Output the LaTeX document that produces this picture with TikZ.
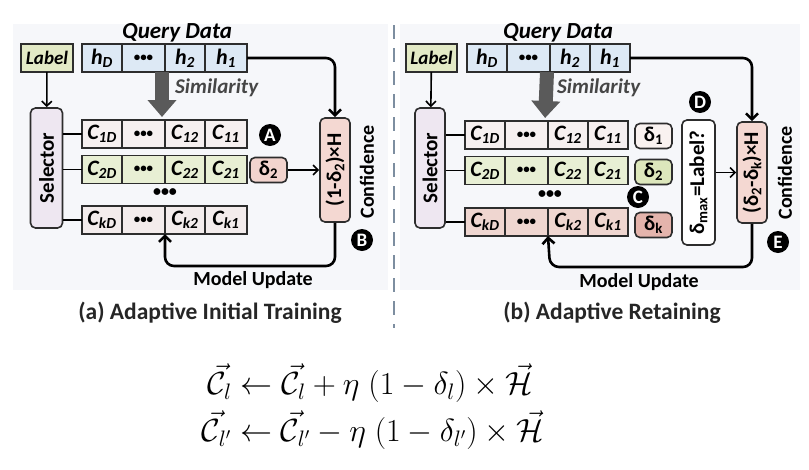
\RequirePackage{fix-cm}
\documentclass[tikz,border=0pt]{standalone}
\usepackage{amsmath}
\usepackage{graphicx}
\usepackage[no-math]{fontspec}
\setmainfont{Carlito}
\usetikzlibrary{arrows.meta, positioning}
\definecolor{edge}{RGB}{45,45,45}
\definecolor{panel}{RGB}{246,247,250}
\definecolor{labelfill}{RGB}{227,234,198}
\definecolor{hfill}{RGB}{221,233,245}
\definecolor{selfill}{RGB}{238,231,241}
\definecolor{rowone}{RGB}{246,240,240}
\definecolor{rowtwo}{RGB}{232,239,212}
\definecolor{rowka}{RGB}{243,236,236}
\definecolor{rowkb}{RGB}{239,214,208}
\definecolor{dpink}{RGB}{242,212,206}
\definecolor{done}{RGB}{249,242,240}
\definecolor{dgreen}{RGB}{221,231,188}
\definecolor{dred}{RGB}{228,180,172}
\definecolor{conffill}{RGB}{244,216,210}
\definecolor{simgray}{RGB}{90,90,90}
\definecolor{simtext}{RGB}{70,70,70}
\definecolor{sepcol}{RGB}{125,142,160}

\begin{document}
\begin{tikzpicture}[x=1pt, y=-1pt,
    cell/.style={draw=edge, line width=1.3pt, minimum height=28pt, inner sep=0pt, outer sep=0pt,
        font=\fontsize{22}{23}\selectfont\bfseries\itshape},
    dotcell/.style={cell, font=\fontsize{13}{14}\selectfont\bfseries},
    box/.style={draw=edge, line width=1.6pt, rounded corners=5pt, inner sep=0pt,
        font=\fontsize{21}{22}\selectfont\bfseries},
    badge/.style={circle, fill=black, text=white, inner sep=0pt, minimum size=22pt,
        font=\fontsize{19}{20}\selectfont\bfseries},
    headline/.style={inner sep=0pt, font=\fontsize{23}{24}\selectfont\bfseries\itshape},
    flow/.style={draw=black, line width=2.6pt, rounded corners=9pt, -{Straight Barb[length=6pt,width=12pt]}},
    link/.style={draw=black, line width=1.6pt, -{Straight Barb[length=5pt,width=10pt]}},
    wire/.style={draw=black, line width=1.6pt},
    simflow/.style={draw=simgray, line width=14pt, -{Triangle[length=17pt,width=28pt]}},
    eq/.style={inner sep=0pt, font=\fontsize{32}{37}\selectfont}]
    \useasboundingbox (0,0) rectangle (809,469);
    \fill[panel] (13,24) rectangle (388,290);
    \fill[panel] (400,24) rectangle (800,290);
    \draw[sepcol, line width=1.5pt, dash pattern=on 14pt off 9pt] (394,25) -- (394,328);

    % (a) adaptive initial training
    \node[headline, anchor=west] (aquery) at (122,33) {Query Data};
    \node[cell, fill=labelfill, minimum width=52pt, font=\fontsize{19}{20}\selectfont\bfseries\itshape] (alabel) at (47,58) {Label};
    \node[cell, fill=hfill, minimum width=40pt, anchor=west] (ahd) at (82,58) {h\textsubscript{D}};
    \node[dotcell, fill=hfill, minimum width=43pt, right=0pt of ahd] (ahdots) {•••};
    \node[cell, fill=hfill, minimum width=40pt, right=0pt of ahdots] (ah2) {h\textsubscript{2}};
    \node[cell, fill=hfill, minimum width=42pt, right=0pt of ah2] (ah1) {h\textsubscript{1}};
    \node[headline, text=simtext, anchor=west, font=\fontsize{21}{22}\selectfont\bfseries\itshape] (asim) at (175,88) {Similarity};
    \node[box, fill=selfill, minimum width=32pt, minimum height=120pt] (aselect) at (46.5,168) {\rotatebox{90}{Selector}};

    \node[cell, fill=rowone, minimum width=40pt, anchor=west] (ac1d) at (82,134) {C\textsubscript{1D}};
    \node[dotcell, fill=rowone, minimum width=43pt, right=0pt of ac1d] (ac1dots) {•••};
    \node[cell, fill=rowone, minimum width=40pt, right=0pt of ac1dots] (ac12) {C\textsubscript{12}};
    \node[cell, fill=rowone, minimum width=42pt, right=0pt of ac12] (ac11) {C\textsubscript{11}};
    \node[cell, fill=rowtwo, minimum width=40pt, anchor=west] (ac2d) at (82,169.5) {C\textsubscript{2D}};
    \node[dotcell, fill=rowtwo, minimum width=43pt, right=0pt of ac2d] (ac2dots) {•••};
    \node[cell, fill=rowtwo, minimum width=40pt, right=0pt of ac2dots] (ac22) {C\textsubscript{22}};
    \node[cell, fill=rowtwo, minimum width=42pt, right=0pt of ac22] (ac21) {C\textsubscript{21}};
    \node[font=\fontsize{16}{17}\selectfont\bfseries] (avdots) at (165,193) {•••};
    \node[cell, fill=rowka, minimum width=40pt, anchor=west] (ackd) at (82,220) {C\textsubscript{kD}};
    \node[dotcell, fill=rowka, minimum width=43pt, right=0pt of ackd] (ackdots) {•••};
    \node[cell, fill=rowka, minimum width=40pt, right=0pt of ackdots] (ack2) {C\textsubscript{k2}};
    \node[cell, fill=rowka, minimum width=42pt, right=0pt of ack2] (ack1) {C\textsubscript{k1}};

    \node[badge] (abadgea) at (270,135) {A};
    \node[box, fill=dpink, minimum width=37pt, minimum height=25pt] (adelta) at (268.5,170) {δ\textsubscript{2}};
    \node[box, fill=conffill, minimum width=30pt, minimum height=104pt] (aconf) at (335,170) {\rotatebox{90}{(1-δ\textsubscript{2})×H}};
    \node[rotate=90, font=\fontsize{20}{21}\selectfont\bfseries] (aconfl) at (367,172) {Confidence};
    \node[badge] (abadgeb) at (362,240) {B};
    \node[font=\fontsize{20}{22}\selectfont\bfseries] (aupdl) at (253,280) {Model Update};
    \node[font=\fontsize{23.5}{26}\selectfont\bfseries, text=black!85] (acap) at (210,313) {(a) Adaptive Initial Training};
    \coordinate (aupd) at (165,266);

    \draw[simflow, shorten >=3pt] ([xshift=-3pt]ah2.south west) -- ([xshift=-3pt]ac12.north west);
    \draw[link] (alabel) -- (aselect);
    \draw[wire] (aselect.east |- ac1d.west) -- (ac1d.west);
    \draw[wire] (aselect.east |- ac2d.west) -- (ac2d.west);
    \draw[wire] (aselect.east |- ackd.west) -- (ackd.west);
    \draw[link] (adelta) -- (aconf.west |- adelta);
    \draw[flow] (ah1.east) -| (aconf.north);
    \draw[flow] (aconf.south) |- (aupd) -- (ack2.south west);

    % (b) adaptive retaining
    \node[headline, anchor=west] (bquery) at (503,33) {Query Data};
    \node[cell, fill=labelfill, minimum width=51pt, font=\fontsize{19}{20}\selectfont\bfseries\itshape] (blabel) at (431.5,58) {Label};
    \node[cell, fill=hfill, minimum width=40pt, anchor=west] (bhd) at (467,58) {h\textsubscript{D}};
    \node[dotcell, fill=hfill, minimum width=43pt, right=0pt of bhd] (bhdots) {•••};
    \node[cell, fill=hfill, minimum width=40pt, right=0pt of bhdots] (bh2) {h\textsubscript{2}};
    \node[cell, fill=hfill, minimum width=40pt, right=0pt of bh2] (bh1) {h\textsubscript{1}};
    \node[headline, text=simtext, anchor=west, font=\fontsize{21}{22}\selectfont\bfseries\itshape] (bsim) at (557,88) {Similarity};
    \node[box, fill=selfill, minimum width=30pt, minimum height=120pt] (bselect) at (430,168) {\rotatebox{90}{Selector}};

    \node[cell, fill=rowone, minimum width=40pt, anchor=west] (bc1d) at (465,135) {C\textsubscript{1D}};
    \node[dotcell, fill=rowone, minimum width=43pt, right=0pt of bc1d] (bc1dots) {•••};
    \node[cell, fill=rowone, minimum width=40pt, right=0pt of bc1dots] (bc12) {C\textsubscript{12}};
    \node[cell, fill=rowone, minimum width=40pt, right=0pt of bc12] (bc11) {C\textsubscript{11}};
    \node[cell, fill=rowtwo, minimum width=40pt, anchor=west] (bc2d) at (465,170.5) {C\textsubscript{2D}};
    \node[dotcell, fill=rowtwo, minimum width=43pt, right=0pt of bc2d] (bc2dots) {•••};
    \node[cell, fill=rowtwo, minimum width=40pt, right=0pt of bc2dots] (bc22) {C\textsubscript{22}};
    \node[cell, fill=rowtwo, minimum width=40pt, right=0pt of bc22] (bc21) {C\textsubscript{21}};
    \node[font=\fontsize{16}{17}\selectfont\bfseries] (bvdots) at (550,195) {•••};
    \node[cell, fill=rowkb, minimum width=40pt, anchor=west] (bckd) at (465,222) {C\textsubscript{kD}};
    \node[dotcell, fill=rowkb, minimum width=43pt, right=0pt of bckd] (bckdots) {•••};
    \node[cell, fill=rowkb, minimum width=40pt, right=0pt of bckdots] (bck2) {C\textsubscript{k2}};
    \node[cell, fill=rowkb, minimum width=40pt, right=0pt of bck2] (bck1) {C\textsubscript{k1}};

    \node[box, fill=done, minimum width=37pt, minimum height=25pt] (bdeltaa) at (653.5,136) {δ\textsubscript{1}};
    \node[box, fill=dgreen, minimum width=37pt, minimum height=25pt] (bdeltab) at (653.5,172) {δ\textsubscript{2}};
    \node[box, fill=dred, minimum width=37pt, minimum height=25pt] (bdeltak) at (653.5,225) {δ\textsubscript{k}};
    \node[badge] (bbadgec) at (638,197) {C};
    \node[badge] (bbadged) at (700,102) {D};
    \node[box, fill=white, minimum width=33pt, minimum height=125pt] (bcheck) at (698.5,182.5) {\rotatebox{90}{δ\textsubscript{max}=Label?}};
    \node[box, fill=conffill, minimum width=30pt, minimum height=101pt] (bconf) at (752,172.5) {\rotatebox{90}{(δ\textsubscript{2}-δ\textsubscript{k})×H}};
    \node[rotate=90, font=\fontsize{20}{21}\selectfont\bfseries] (bconfl) at (785,173) {Confidence};
    \node[badge] (bbadgee) at (778,242) {E};
    \node[font=\fontsize{20}{22}\selectfont\bfseries] (bupdl) at (639,282) {Model Update};
    \node[font=\fontsize{23.5}{26}\selectfont\bfseries, text=black!85] (bcap) at (612,313) {(b) Adaptive Retaining};
    \coordinate (bupd) at (550,267);

    \draw[simflow, shorten >=3pt] ([xshift=-3pt]bh2.south west) -- ([xshift=-3pt]bc12.north west);
    \draw[link] (blabel) -- (bselect);
    \draw[wire] (bselect.east |- bc1d.west) -- (bc1d.west);
    \draw[wire] (bselect.east |- bc2d.west) -- (bc2d.west);
    \draw[wire] (bselect.east |- bckd.west) -- (bckd.west);
    \draw[link] (bcheck.east |- bconf.west) -- (bconf.west);
    \draw[flow] (bh1.east) -| (bconf.north);
    \draw[flow] (bconf.south) |- (bupd) -- (bck2.south west);

    % update rules
    \node[eq] (eqone) at (370,383) {$\vec{\mathcal{C}}_l \leftarrow \vec{\mathcal{C}}_l + \eta\;(1-\delta_l) \times \vec{\mathcal{H}}$};
    \node[eq] (eqtwo) at (373,430) {$\vec{\mathcal{C}}_{l'} \leftarrow \vec{\mathcal{C}}_{l'} - \eta\;(1-\delta_{l'}) \times \vec{\mathcal{H}}$};
\end{tikzpicture}
\end{document}
